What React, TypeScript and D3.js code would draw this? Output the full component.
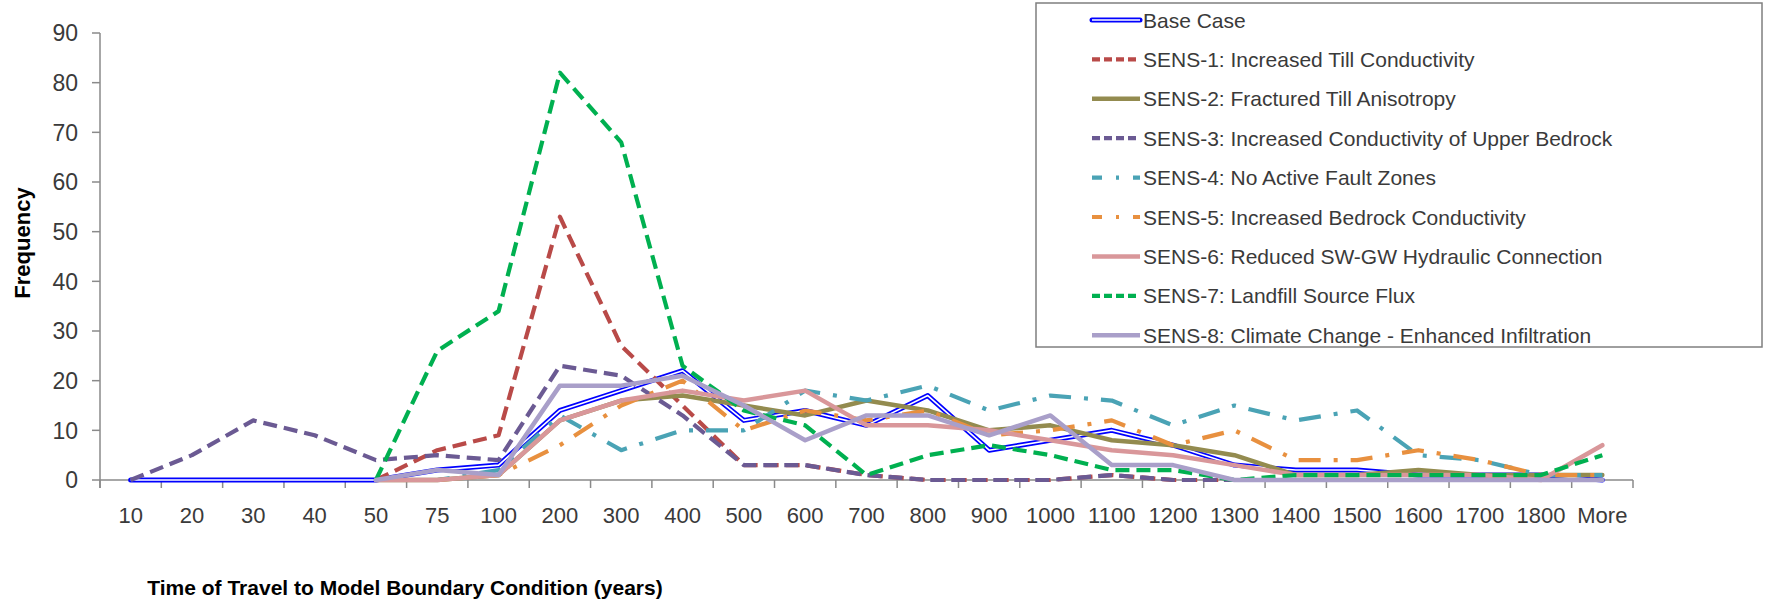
import React from "react";
import * as d3 from "d3";

const categories = ["10","20","30","40","50","75","100","200","300","400","500","600","700","800","900","1000","1100","1200","1300","1400","1500","1600","1700","1800","More"];
const yTicks = [0,10,20,30,40,50,60,70,80,90];

type V = number | null;
const baseCase: V[] = [0,0,0,0,0,2,3,14,18,22,12,14,11,17,6,8,10,7,3,2,2,1,1,1,0];
const sens1: V[] = [null,null,null,null,0,6,9,53,27,15,3,3,1,0,0,0,1,0,0,0,0,0,0,0,0];
const sens2: V[] = [null,null,null,null,0,0,1,12,16,17,15,13,16,14,10,11,8,7,5,1,1,2,1,1,1];
const sens3: V[] = [0,5,12,9,4,5,4,23,21,13,3,3,1,0,0,0,1,0,0,0,0,0,0,0,0];
const sens4: V[] = [null,null,null,null,0,0,2,13,6,10,10,18,16,19,14,17,16,11,15,12,14,5,4,1,1];
const sens5: V[] = [null,null,null,null,0,0,1,7,15,20,10,14,12,14,9,10,12,7,10,4,4,6,4,1,1];
const sens6: V[] = [null,null,null,null,0,0,1,12,16,18,16,18,11,11,10,8,6,5,3,1,1,1,1,0,7];
const sens7: V[] = [null,null,null,null,0,26,34,82,68,23,14,11,1,5,7,5,2,2,0,1,1,1,1,1,5];
const sens8: V[] = [null,null,null,null,0,2,1,19,19,21,15,8,13,13,9,13,3,3,0,0,0,0,0,0,0];

const seriesNames = [
  "Base Case",
  "SENS-1: Increased Till Conductivity",
  "SENS-2: Fractured Till Anisotropy",
  "SENS-3: Increased Conductivity of Upper Bedrock",
  "SENS-4: No Active Fault Zones",
  "SENS-5: Increased Bedrock Conductivity",
  "SENS-6: Reduced SW-GW Hydraulic Connection",
  "SENS-7: Landfill Source Flux",
  "SENS-8: Climate Change - Enhanced Infiltration",
];
const seriesValues = [baseCase, sens1, sens2, sens3, sens4, sens5, sens6, sens7, sens8];

type Style = { color: string; width: number; dash?: string; legendDash?: string; double?: boolean };
const styles: Style[] = [
  { color: "#0000FF", width: 5, double: true },
  { color: "#B94A48", width: 4.2, dash: "14,7", legendDash: "8,4" },
  { color: "#938B4F", width: 4.5 },
  { color: "#6B5A93", width: 4.2, dash: "14,7", legendDash: "8,4" },
  { color: "#4AA3B5", width: 4.2, dash: "22,13,4,13", legendDash: "10,14,3,14" },
  { color: "#E8903F", width: 4.2, dash: "22,13,4,13", legendDash: "10,14,3,14" },
  { color: "#D9979A", width: 4.5 },
  { color: "#00B050", width: 4.2, dash: "14,7", legendDash: "8,4" },
  { color: "#A99FC9", width: 4.5 },
];

const FONT = "'Liberation Sans', Arial, sans-serif";
const AXIS = "#8A8A8A";
const TEXT = "#3A3A3A";

export default function App() {
  const W = 1769, H = 604;
  const x0 = 100, x1 = 1633, yTop = 33, yBot = 480;
  const x = d3.scaleBand<string>().domain(categories).range([x0, x1]).padding(0);
  const bw = x.bandwidth();
  const y = d3.scaleLinear().domain([0, 90]).range([yBot, yTop]);
  const cx = (c: string) => (x(c) as number) + bw / 2;

  const line = d3
    .line<V>()
    .defined((d) => d !== null)
    .x((_, i) => cx(categories[i]))
    .y((d) => y(d as number));

  const boundaries = d3.range(categories.length + 1).map((k) => x0 + k * bw);

  const legX = 1036, legY = 3, legW = 726, legH = 344;
  const rowY = (i: number) => 20 + i * 39.4;
  const sx0 = 1092, sx1 = 1140;

  return (
    <svg width={W} height={H} style={{ position: "absolute", left: 0, top: 0, background: "#fff" }} fontFamily={FONT}>
      <rect x={0} y={0} width={W} height={H} fill="#fff" />
      {/* axes */}
      <line x1={x0} y1={yTop} x2={x0} y2={yBot + 8} stroke={AXIS} strokeWidth={1.5} />
      <line x1={x0} y1={yBot} x2={x1} y2={yBot} stroke={AXIS} strokeWidth={1.5} />
      {yTicks.map((t) => (
        <g key={t}>
          <line x1={x0 - 8} x2={x0} y1={y(t)} y2={y(t)} stroke={AXIS} strokeWidth={1.5} />
          <text x={78} y={y(t)} dy="0.36em" textAnchor="end" fontSize={23} fill={TEXT}>{t}</text>
        </g>
      ))}
      {boundaries.map((b, k) => (
        <line key={k} x1={b} x2={b} y1={yBot} y2={yBot + 8} stroke={AXIS} strokeWidth={1.5} />
      ))}
      {categories.map((c) => (
        <text key={c} x={cx(c)} y={515} dy="0.36em" textAnchor="middle" fontSize={22} fill={TEXT}>{c}</text>
      ))}
      <text x={22} y={243} transform="rotate(-90 22 243)" textAnchor="middle" dy="0.36em" fontSize={22} fontWeight="bold" fill="#000">Frequency</text>
      <text x={405} y={587} textAnchor="middle" dy="0.36em" fontSize={21} fontWeight="bold" fill="#000">Time of Travel to Model Boundary Condition (years)</text>

      {/* series */}
      {seriesValues.map((vals, i) => {
        const s = styles[i];
        const d = line(vals) || "";
        return (
          <g key={i}>
            <path d={d} fill="none" stroke={s.color} strokeWidth={s.width} strokeDasharray={s.dash} strokeLinejoin="round" strokeLinecap={s.dash ? "butt" : "round"} />
            {s.double && <path d={d} fill="none" stroke="#fff" strokeWidth={1.6} strokeLinejoin="round" />}
          </g>
        );
      })}

      {/* legend */}
      <rect x={legX} y={legY} width={legW} height={legH} fill="#fff" stroke="#7F7F7F" strokeWidth={1.5} />
      {seriesNames.map((n, i) => {
        const s = styles[i];
        const yy = rowY(i);
        return (
          <g key={n}>
            <line x1={sx0} x2={sx1} y1={yy} y2={yy} stroke={s.color} strokeWidth={s.width} strokeDasharray={s.legendDash} strokeLinecap={s.double ? "round" : "butt"} />
            {s.double && <line x1={sx0} x2={sx1} y1={yy} y2={yy} stroke="#fff" strokeWidth={1.6} />}
            <text x={sx1 + 3} y={yy} dy="0.36em" fontSize={21} fill={TEXT}>{n}</text>
          </g>
        );
      })}
    </svg>
  );
}
